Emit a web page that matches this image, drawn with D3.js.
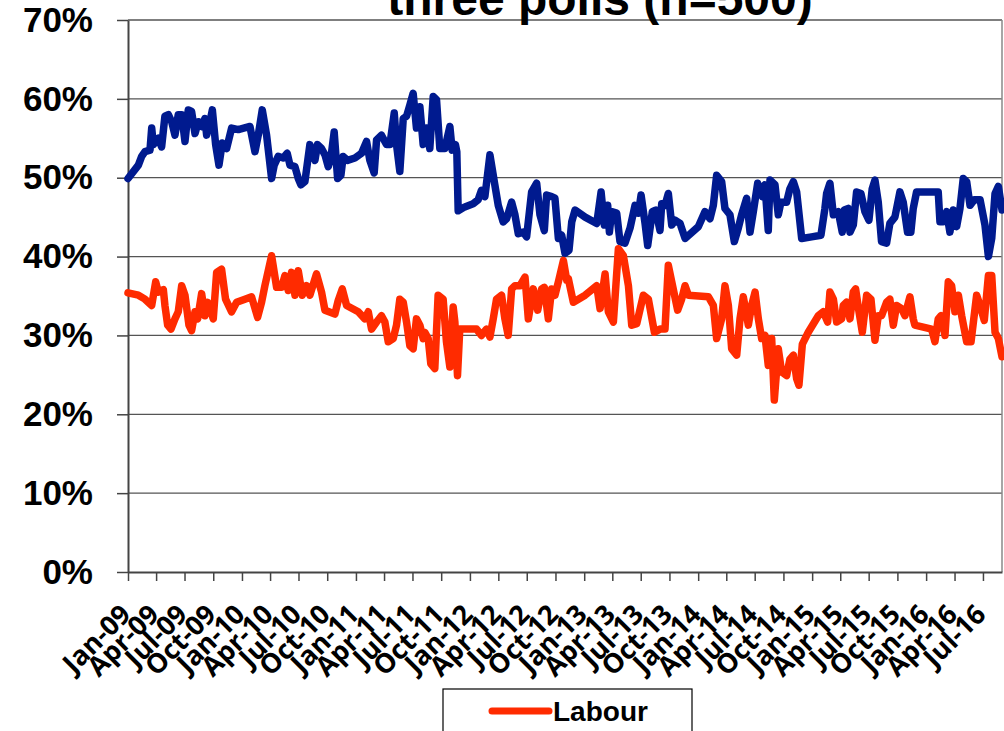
<!DOCTYPE html>
<html>
<head>
<meta charset="utf-8">
<script src="https://cdn.jsdelivr.net/npm/d3@7"></script>
<style>
  body { margin: 0; background: #fff; }
  svg { display: block; }
</style>
</head>
<body>
<svg id="chart"></svg>
<script>
// quarterly tick labels along the date axis
const quarterLabels = [
  "Jan-09","Apr-09","Jul-09","Oct-09","Jan-10","Apr-10","Jul-10","Oct-10",
  "Jan-11","Apr-11","Jul-11","Oct-11","Jan-12","Apr-12","Jul-12","Oct-12",
  "Jan-13","Apr-13","Jul-13","Oct-13","Jan-14","Apr-14","Jul-14","Oct-14",
  "Jan-15","Apr-15","Jul-15","Oct-15","Jan-16","Apr-16","Jul-16"
];
const yTicks = [0, 10, 20, 30, 40, 50, 60, 70];

// blue series: poll date (decimal year) and share (%)
const blueYears = [
  2009.000,2009.091,2009.120,2009.149,2009.193,2009.208,2009.222,2009.266,2009.295,2009.324,
  2009.354,2009.383,2009.412,2009.441,2009.471,2009.500,2009.529,2009.558,2009.588,2009.617,
  2009.646,2009.675,2009.690,2009.719,2009.740,2009.769,2009.798,2009.827,2009.865,2009.909,
  2009.968,2010.070,2010.114,2010.143,2010.178,2010.216,2010.260,2010.283,2010.318,2010.362,
  2010.397,2010.421,2010.465,2010.494,2010.517,2010.552,2010.596,2010.640,2010.663,2010.698,
  2010.728,2010.757,2010.780,2010.809,2010.839,2010.868,2010.888,2010.926,2010.991,2011.049,
  2011.093,2011.122,2011.160,2011.181,2011.224,2011.268,2011.298,2011.336,2011.356,2011.385,
  2011.415,2011.444,2011.473,2011.502,2011.531,2011.561,2011.590,2011.619,2011.648,2011.678,
  2011.707,2011.736,2011.780,2011.824,2011.844,2011.873,2011.885,2011.897,2011.955,2012.028,
  2012.072,2012.101,2012.131,2012.175,2012.218,2012.248,2012.291,2012.321,2012.365,2012.394,
  2012.423,2012.467,2012.496,2012.540,2012.584,2012.613,2012.651,2012.671,2012.715,2012.744,
  2012.774,2012.803,2012.832,2012.867,2012.891,2012.920,2013.008,2013.110,2013.148,2013.177,
  2013.206,2013.221,2013.241,2013.285,2013.314,2013.358,2013.402,2013.446,2013.475,2013.499,
  2013.534,2013.557,2013.598,2013.627,2013.665,2013.680,2013.709,2013.738,2013.768,2013.797,
  2013.841,2013.885,2014.002,2014.060,2014.104,2014.133,2014.162,2014.206,2014.235,2014.279,
  2014.317,2014.352,2014.381,2014.425,2014.455,2014.484,2014.522,2014.563,2014.586,2014.615,
  2014.630,2014.674,2014.703,2014.726,2014.776,2014.805,2014.835,2014.864,2014.908,2014.995,
  2015.077,2015.112,2015.127,2015.156,2015.186,2015.229,2015.264,2015.282,2015.317,2015.332,
  2015.361,2015.390,2015.428,2015.463,2015.498,2015.527,2015.551,2015.580,2015.609,2015.653,
  2015.682,2015.726,2015.770,2015.799,2015.837,2015.866,2015.887,2015.916,2016.106,2016.121,
  2016.150,2016.179,2016.208,2016.238,2016.267,2016.296,2016.325,2016.355,2016.384,2016.422,
  2016.472,2016.515,2016.545,2016.574,2016.603,2016.632,2016.664
];
const blueShare = [
  49.9,51.6,52.7,53.3,53.5,56.3,54.2,55.0,53.9,57.8,
  58.0,57.1,55.4,58.0,58.0,54.6,58.6,58.4,55.6,57.1,
  56.5,57.5,55.4,57.1,58.6,54.2,51.6,54.4,53.7,56.3,
  56.1,56.5,53.3,55.4,58.6,55.4,49.9,51.6,52.7,52.5,
  53.1,51.6,51.4,49.9,49.1,49.5,54.2,52.2,54.2,53.7,
  52.9,51.4,52.5,55.8,49.9,50.3,52.7,52.2,52.5,53.1,
  54.6,52.2,50.6,54.8,55.4,54.2,54.2,58.2,54.2,50.8,
  57.5,57.8,59.2,60.7,56.3,59.0,54.2,56.3,53.7,60.3,
  59.9,53.7,53.7,56.5,53.5,54.2,53.3,45.8,46.3,46.7,
  47.2,48.4,47.6,52.9,49.1,46.5,44.4,44.8,46.9,45.3,
  42.9,43.1,42.5,48.2,49.3,45.3,43.3,47.8,47.6,47.4,
  42.3,42.7,40.4,40.8,44.4,45.9,45.0,44.2,48.2,44.0,
  46.5,43.1,45.7,45.5,41.9,41.7,43.6,46.5,45.5,47.8,
  44.2,41.4,45.7,45.9,43.3,46.7,46.5,48.0,44.0,44.6,
  44.2,42.3,43.8,45.7,44.8,46.5,50.3,49.5,46.1,45.3,
  41.9,43.6,45.3,47.4,43.1,45.7,49.3,47.6,49.1,43.3,
  49.7,49.1,45.3,46.9,46.9,48.6,49.5,48.2,42.3,42.5,
  42.7,46.1,48.0,49.3,45.3,45.7,43.1,45.9,46.1,43.1,
  44.0,48.2,48.0,45.7,44.6,48.6,49.7,46.9,41.9,41.7,
  44.2,45.0,48.2,46.9,43.1,43.1,46.1,48.2,48.2,44.4,
  44.4,45.7,43.1,45.9,43.8,46.1,49.9,49.5,46.5,47.2,
  47.2,44.0,40.0,42.3,48.0,48.9,45.9
];

// Labour: poll date (decimal year) and share (%)
const labourYears = [
  2009.000,2009.091,2009.149,2009.208,2009.243,2009.266,2009.310,2009.324,2009.348,2009.377,
  2009.412,2009.441,2009.471,2009.500,2009.535,2009.558,2009.588,2009.611,2009.646,2009.675,
  2009.699,2009.719,2009.748,2009.778,2009.821,2009.856,2009.909,2009.953,2010.026,2010.084,
  2010.137,2010.172,2010.201,2010.260,2010.304,2010.348,2010.377,2010.406,2010.435,2010.465,
  2010.494,2010.529,2010.567,2010.596,2010.654,2010.698,2010.728,2010.763,2010.815,2010.844,
  2010.880,2010.918,2011.020,2011.078,2011.108,2011.137,2011.181,2011.224,2011.254,2011.283,
  2011.327,2011.356,2011.385,2011.415,2011.444,2011.473,2011.502,2011.531,2011.561,2011.590,
  2011.604,2011.634,2011.657,2011.692,2011.721,2011.765,2011.794,2011.824,2011.853,2011.868,
  2011.891,2011.911,2012.058,2012.101,2012.145,2012.175,2012.204,2012.233,2012.277,2012.306,
  2012.335,2012.365,2012.394,2012.438,2012.482,2012.511,2012.555,2012.593,2012.628,2012.651,
  2012.686,2012.715,2012.744,2012.774,2012.818,2012.847,2012.861,2012.905,2013.008,2013.110,
  2013.139,2013.183,2013.212,2013.256,2013.300,2013.344,2013.388,2013.417,2013.461,2013.519,
  2013.563,2013.616,2013.665,2013.709,2013.738,2013.768,2013.820,2013.855,2013.885,2013.914,
  2014.090,2014.133,2014.162,2014.206,2014.235,2014.265,2014.294,2014.338,2014.367,2014.396,
  2014.440,2014.469,2014.499,2014.528,2014.557,2014.586,2014.615,2014.645,2014.668,2014.703,
  2014.732,2014.776,2014.805,2014.835,2014.864,2014.884,2014.914,2014.966,2015.054,2015.098,
  2015.136,2015.156,2015.186,2015.215,2015.259,2015.273,2015.302,2015.332,2015.361,2015.381,
  2015.411,2015.440,2015.478,2015.516,2015.551,2015.580,2015.609,2015.653,2015.682,2015.712,
  2015.741,2015.785,2015.814,2015.858,2015.887,2015.901,2016.048,2016.077,2016.106,2016.130,
  2016.165,2016.194,2016.223,2016.252,2016.282,2016.311,2016.355,2016.393,2016.442,2016.472,
  2016.509,2016.545,2016.574,2016.603,2016.632,2016.664
];
const labourShare = [
  35.4,35.1,34.6,33.8,36.8,35.5,35.8,33.8,31.3,30.8,
  32.1,33.0,36.3,35.1,31.3,30.6,33.0,32.1,35.3,32.5,
  34.2,33.4,32.1,38.0,38.4,34.6,33.0,34.2,34.6,34.9,
  32.3,34.2,36.3,40.1,36.1,36.1,37.6,35.7,38.0,35.1,
  38.2,35.1,36.3,35.1,37.8,35.5,33.2,33.0,32.7,34.4,
  35.9,33.8,33.0,32.1,33.0,30.8,31.7,32.5,31.7,29.2,
  29.6,31.3,34.6,34.2,31.7,28.7,28.3,32.1,31.3,29.6,
  30.4,29.6,26.4,25.8,35.1,34.6,29.2,26.0,33.6,31.7,
  24.9,30.8,30.8,30.0,30.8,29.8,32.1,34.6,35.1,32.1,
  30.0,35.9,36.3,36.3,37.4,32.1,35.9,33.2,35.9,36.1,
  32.1,35.9,35.1,36.8,39.5,37.0,37.2,34.2,35.1,36.3,
  33.4,37.8,33.0,31.7,41.0,40.1,36.3,31.3,31.5,35.1,
  34.6,30.4,30.8,30.8,38.9,36.8,33.2,34.6,36.3,35.1,
  34.9,33.8,29.6,32.1,36.3,33.8,28.3,27.5,32.1,34.9,
  31.3,33.8,35.5,32.1,29.6,30.0,26.2,29.6,21.8,28.3,
  25.4,24.9,27.0,27.5,24.5,23.7,28.9,30.4,32.5,33.0,
  31.7,35.5,34.6,31.7,32.1,33.8,34.2,32.1,35.5,35.9,
  33.0,30.4,35.1,34.6,29.4,32.5,32.5,34.2,34.6,31.3,
  33.8,33.4,32.5,34.9,32.1,31.3,30.8,29.2,32.1,32.5,
  30.0,36.8,36.3,33.0,35.1,32.5,29.2,29.2,35.1,33.8,
  31.9,37.6,37.6,30.4,29.6,27.3
];

const width = 1004, height = 731;
const plot = { left: 128, right: 1002, top: 20, bottom: 572 };

// decimal year -> Date
function yearToDate(t) {
  const y = Math.floor(t);
  const a = new Date(y, 0, 1), b = new Date(y + 1, 0, 1);
  return new Date(+a + (t - y) * (b - a));
}

const parseQ = d3.timeParse("%b-%y");
const tickDates = quarterLabels.map(parseQ);

const blue = blueYears.map((t, i) => ({ date: yearToDate(t), value: blueShare[i] }));
const labour = labourYears.map((t, i) => ({ date: yearToDate(t), value: labourShare[i] }));

const svg = d3.select("#chart").attr("width", width).attr("height", height);

const x = d3.scaleTime()
  .domain([new Date(2009, 0, 1), new Date(2016, 7, 31)])
  .range([plot.left, plot.right]);

const y = d3.scaleLinear()
  .domain([0, 70])
  .range([plot.bottom, plot.top]);

// gridlines
svg.append("g")
  .selectAll("line")
  .data(yTicks.slice(1))
  .join("line")
  .attr("x1", plot.left).attr("x2", plot.right)
  .attr("y1", d => y(d)).attr("y2", d => y(d))
  .attr("stroke", "#555").attr("stroke-width", 1.3);

// right border of plot area
svg.append("line")
  .attr("x1", plot.right).attr("x2", plot.right)
  .attr("y1", plot.top).attr("y2", plot.bottom)
  .attr("stroke", "#888").attr("stroke-width", 1.5);

// y axis
const yAxis = svg.append("g")
  .attr("transform", `translate(${plot.left},0)`)
  .call(d3.axisLeft(y).tickValues(yTicks).tickFormat(d => d + "%").tickSize(11).tickPadding(24).tickSizeOuter(0));
yAxis.select(".domain").attr("stroke", "#444").attr("stroke-width", 2);
yAxis.selectAll(".tick line").attr("stroke", "#444").attr("stroke-width", 1.5);
yAxis.selectAll("text")
  .attr("fill", "#000")
  .style("font-family", "'Liberation Sans', Arial, sans-serif")
  .style("font-weight", "bold")
  .style("font-size", "35px");

// x axis
const xAxis = svg.append("g")
  .attr("transform", `translate(0,${plot.bottom})`)
  .call(d3.axisBottom(x).tickValues(tickDates).tickFormat((d, i) => quarterLabels[i]).tickSize(9).tickSizeOuter(0));
xAxis.select(".domain").attr("stroke", "#444").attr("stroke-width", 2);
xAxis.selectAll(".tick line").attr("stroke", "#444").attr("stroke-width", 1.5);
xAxis.selectAll("text")
  .attr("y", null).attr("dy", null)
  .attr("transform", "translate(4,44) rotate(-45)")
  .style("text-anchor", "end")
  .attr("fill", "#000")
  .style("font-family", "'Open Sans', 'DejaVu Sans', sans-serif")
  .style("font-weight", "bold")
  .style("font-size", "27px");

// series lines
const line = d3.line().x(d => x(d.date)).y(d => y(d.value));

svg.append("path")
  .datum(blue)
  .attr("fill", "none")
  .attr("stroke", "#001a8f")
  .attr("stroke-width", 7.5)
  .attr("stroke-linejoin", "round")
  .attr("stroke-linecap", "round")
  .attr("d", line);

svg.append("path")
  .datum(labour)
  .attr("fill", "none")
  .attr("stroke", "#ff2b00")
  .attr("stroke-width", 7.5)
  .attr("stroke-linejoin", "round")
  .attr("stroke-linecap", "round")
  .attr("d", line);

// title (only the last line is inside the frame)
svg.append("text")
  .attr("x", 600).attr("y", 15)
  .attr("text-anchor", "middle")
  .style("font-family", "'Liberation Sans', Arial, sans-serif")
  .style("font-weight", "bold")
  .style("font-size", "48px")
  .text("three polls (n=500)");

// legend
const legend = svg.append("g").attr("transform", "translate(443,689)");
legend.append("rect")
  .attr("width", 249).attr("height", 80)
  .attr("fill", "#fff").attr("stroke", "#000").attr("stroke-width", 1.2);
legend.append("line")
  .attr("x1", 49).attr("x2", 106).attr("y1", 22).attr("y2", 22)
  .attr("stroke", "#ff2b00").attr("stroke-width", 7).attr("stroke-linecap", "round");
legend.append("text")
  .attr("x", 110).attr("y", 32)
  .style("font-family", "'Liberation Sans', Arial, sans-serif")
  .style("font-weight", "bold")
  .style("font-size", "28px")
  .text("Labour");
</script>
</body>
</html>
